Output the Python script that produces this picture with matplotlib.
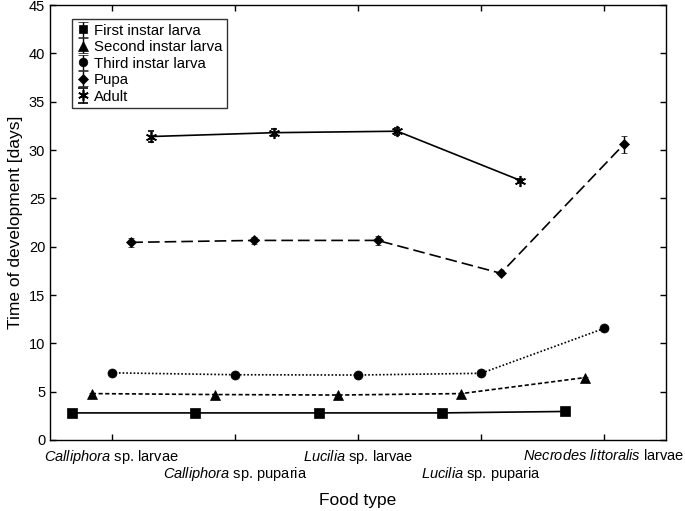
import numpy as np
import matplotlib
matplotlib.use('Agg')
import matplotlib.pyplot as plt

plt.rcParams['font.family'] = ['Liberation Sans', 'DejaVu Sans']
plt.rcParams['mathtext.fontset'] = 'custom'
plt.rcParams['mathtext.rm'] = 'Liberation Sans'
plt.rcParams['mathtext.it'] = 'Liberation Sans:italic'

food = [r'$\it{Calliphora}$ sp. larvae', r'$\it{Calliphora}$ sp. puparia',
        r'$\it{Lucilia}$ sp. larvae', r'$\it{Lucilia}$ sp. puparia',
        r'$\it{Necrodes\ littoralis}$ larvae']

first_instar = [2.8, 2.8, 2.8, 2.8, 2.95]
first_err = [0.1, 0.1, 0.1, 0.1, 0.1]
second_instar = [4.8, 4.7, 4.65, 4.8, 6.45]
second_err = [0.1, 0.1, 0.1, 0.1, 0.1]
third_instar = [6.95, 6.75, 6.72, 6.9, 11.55]
third_err = [0.1, 0.1, 0.1, 0.1, 0.15]
pupa = [20.45, 20.65, 20.65, 17.25, 30.6]
pupa_err = [0.45, 0.35, 0.45, 0.15, 0.9]
adult = [31.4, 31.8, 31.95, 26.85]
adult_err = [0.6, 0.35, 0.35, 0.2]

fig = plt.figure(figsize=(6.85, 5.11), dpi=100)
ax = fig.add_axes([0.073, 0.139, 0.899, 0.851])

x = np.arange(len(food))

series = [
    (first_instar, first_err, -0.32, 's', 6.5, '-', 'First instar larva'),
    (second_instar, second_err, -0.16, '^', 7, (0, (2.5, 1.5)), 'Second instar larva'),
    (third_instar, third_err, 0.0, 'o', 6.5, (0, (1, 1.2)), 'Third instar larva'),
    (pupa, pupa_err, 0.16, 'D', 5.5, (0, (7, 3)), 'Pupa'),
    (adult, adult_err, 0.32, (6, 2, 0), 8, '-', 'Adult'),
]

handles = []
for vals, err, off, mk, ms, ls, lab in series:
    xs = x[:len(vals)] + off
    ax.plot(xs, vals, color='black', linestyle=ls, linewidth=1.2)
    mew = 1.2 if mk == (6, 2, 0) else 0.5
    ax.errorbar(xs, vals, yerr=err, linestyle='none', marker=mk, markersize=ms,
                color='black', markeredgewidth=mew, elinewidth=1, capsize=2.5, capthick=1)
    # legend entry: marker with error bar, no line
    h = ax.errorbar([np.nan], [np.nan], yerr=[1], linestyle='none', marker=mk,
                    markersize=ms * 0.95, color='black', markeredgewidth=mew,
                    elinewidth=1, capsize=3.5, label=lab)
    handles.append(h)

leg = ax.legend(handles=handles, loc='upper left', bbox_to_anchor=(0.035, 0.968),
                fontsize=10.8, frameon=True, fancybox=False, edgecolor='black',
                handlelength=0.9, handletextpad=0.3, labelspacing=0.17,
                borderpad=0.3, borderaxespad=0)
leg.get_frame().set_linewidth(1)

ax.set_xlim(-0.5, 4.5)
ax.set_ylim(0, 45)
ax.set_yticks(np.arange(0, 46, 5))
ax.set_xticks(x)
ax.set_xticklabels(food)
for i, t in enumerate(ax.xaxis.get_major_ticks()):
    t.set_pad(6 if i % 2 == 0 else 18)
ax.tick_params(axis='both', direction='in', top=True, right=True, length=4, width=1, labelsize=10.5)
for s in ax.spines.values():
    s.set_linewidth(1)

ax.set_xlabel('Food type', fontsize=12.5)
ax.xaxis.set_label_coords(0.5, -0.122)
ax.set_ylabel('Time of development [days]', fontsize=12.5, labelpad=4)

plt.savefig('out.png', dpi=100)
